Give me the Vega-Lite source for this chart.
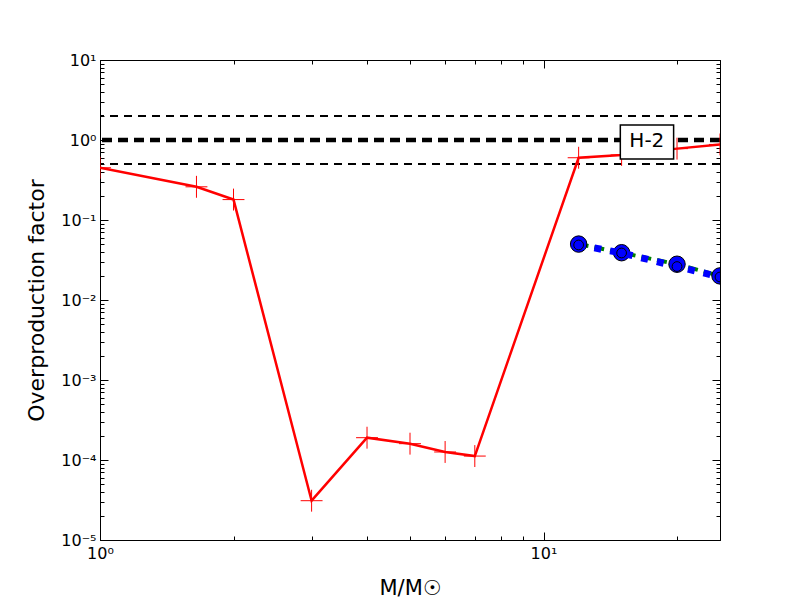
{
  "$schema": "https://vega.github.io/schema/vega-lite/v6.json",
  "width": 620,
  "height": 480,
  "autosize": "none",
  "padding": {"left": 100, "top": 60, "right": 80, "bottom": 60},
  "background": "white",
  "config": {
    "view": {"stroke": "black", "strokeWidth": 1},
    "axis": {
      "domainColor": "black",
      "tickColor": "black",
      "labelColor": "black",
      "titleColor": "black",
      "labelFont": "DejaVu Sans",
      "titleFont": "DejaVu Sans",
      "labelFontSize": 16,
      "titleFontSize": 21,
      "titleFontWeight": "normal",
      "grid": false
    }
  },
  "datasets": {
    "red": [
      {"m": 1, "f": 0.45},
      {"m": 1.65, "f": 0.26},
      {"m": 2, "f": 0.18},
      {"m": 3, "f": 3.1e-5},
      {"m": 4, "f": 1.9e-4},
      {"m": 5, "f": 1.6e-4},
      {"m": 6, "f": 1.26e-4},
      {"m": 7, "f": 1.12e-4},
      {"m": 12, "f": 0.6},
      {"m": 15, "f": 0.65},
      {"m": 20, "f": 0.78},
      {"m": 25, "f": 0.88}
    ],
    "green": [
      {"m": 12, "f": 0.05},
      {"m": 15, "f": 0.039},
      {"m": 20, "f": 0.028},
      {"m": 25, "f": 0.02}
    ],
    "blue": [
      {"m": 12, "f": 0.0487},
      {"m": 15, "f": 0.0387},
      {"m": 20, "f": 0.0262},
      {"m": 25, "f": 0.0194}
    ],
    "hthin": [{"f": 2}, {"f": 0.5}],
    "hthick": [{"f": 1}],
    "label": [{"x": 14.9, "x2": 19.65, "y": 1.54, "y2": 0.579, "xc": 17.1, "yc": 0.97, "t": "H-2"}]
  },
  "resolve": {"axis": {"x": "independent", "y": "independent"}},
  "layer": [
    {
      "data": {"name": "hthin"},
      "mark": {"type": "rule", "color": "black", "strokeWidth": 2, "strokeDash": [8, 6]},
      "encoding": {
        "y": {"field": "f", "type": "quantitative", "scale": {"type": "log", "domain": [1e-5, 10]}, "axis": null}
      }
    },
    {
      "data": {"name": "hthick"},
      "mark": {"type": "rule", "color": "black", "strokeWidth": 4.5, "strokeDash": [10, 6]},
      "encoding": {
        "y": {"field": "f", "type": "quantitative", "scale": {"type": "log", "domain": [1e-5, 10]}, "axis": null}
      }
    },
    {
      "data": {"name": "red"},
      "mark": {"type": "line", "color": "#ff0000", "strokeWidth": 2.5, "clip": true},
      "encoding": {
        "x": {"field": "m", "type": "quantitative", "scale": {"type": "log", "domain": [1, 25], "nice": false},
          "axis": {"orient": "bottom", "title": "M/M☉", "titlePadding": 12,
            "values": [1,2,3,4,5,6,7,8,9,10,20],
            "labelExpr": "abs(log(datum.value)/LN10 - round(log(datum.value)/LN10)) < 1e-6 ? '10' + (round(log(datum.value)/LN10) < 0 ? '⁻' : '') + ['⁰','¹','²','³','⁴','⁵','⁶'][abs(round(log(datum.value)/LN10))] : ''",
            "tickSize": {"condition": {"test": "abs(log(datum.value)/LN10 - round(log(datum.value)/LN10)) < 1e-6", "value": -8}, "value": -4},
            "labelPadding": 13, "labelFlush": false, "labelOverlap": false}},
        "y": {"field": "f", "type": "quantitative", "scale": {"type": "log", "domain": [1e-5, 10]},
          "axis": {"orient": "left", "title": "Overproduction factor", "titleFontSize": 22, "titlePadding": 12,
            "values": [1e-5,2e-5,3e-5,4e-5,5e-5,6e-5,7e-5,8e-5,9e-5,1e-4,2e-4,3e-4,4e-4,5e-4,6e-4,7e-4,8e-4,9e-4,1e-3,2e-3,3e-3,4e-3,5e-3,6e-3,7e-3,8e-3,9e-3,0.01,0.02,0.03,0.04,0.05,0.06,0.07,0.08,0.09,0.1,0.2,0.3,0.4,0.5,0.6,0.7,0.8,0.9,1,2,3,4,5,6,7,8,9,10],
            "labelExpr": "abs(log(datum.value)/LN10 - round(log(datum.value)/LN10)) < 1e-6 ? '10' + (round(log(datum.value)/LN10) < 0 ? '⁻' : '') + ['⁰','¹','²','³','⁴','⁵','⁶'][abs(round(log(datum.value)/LN10))] : ''",
            "tickSize": {"condition": {"test": "abs(log(datum.value)/LN10 - round(log(datum.value)/LN10)) < 1e-6", "value": -8}, "value": -4},
            "labelPadding": 12, "labelFlush": false, "labelOverlap": false}}
      }
    },
    {
      "data": {"name": "red"},
      "mark": {"type": "point", "shape": "M-1,0H1M0,-1V1", "size": 480, "filled": false, "stroke": "#ff0000", "strokeWidth": 1, "opacity": 1, "clip": true},
      "encoding": {
        "x": {"field": "m", "type": "quantitative", "scale": {"type": "log", "domain": [1, 25], "nice": false},
          "axis": {"orient": "top", "title": null, "labels": false,
            "values": [1,2,3,4,5,6,7,8,9,10,20],
            "tickSize": {"condition": {"test": "abs(log(datum.value)/LN10 - round(log(datum.value)/LN10)) < 1e-6", "value": -8}, "value": -4}}},
        "y": {"field": "f", "type": "quantitative", "scale": {"type": "log", "domain": [1e-5, 10]},
          "axis": {"orient": "right", "title": null, "labels": false,
            "values": [1e-5,2e-5,3e-5,4e-5,5e-5,6e-5,7e-5,8e-5,9e-5,1e-4,2e-4,3e-4,4e-4,5e-4,6e-4,7e-4,8e-4,9e-4,1e-3,2e-3,3e-3,4e-3,5e-3,6e-3,7e-3,8e-3,9e-3,0.01,0.02,0.03,0.04,0.05,0.06,0.07,0.08,0.09,0.1,0.2,0.3,0.4,0.5,0.6,0.7,0.8,0.9,1,2,3,4,5,6,7,8,9,10],
            "tickSize": {"condition": {"test": "abs(log(datum.value)/LN10 - round(log(datum.value)/LN10)) < 1e-6", "value": -8}, "value": -4}}}
      }
    },
    {
      "data": {"name": "green"},
      "mark": {"type": "line", "color": "#008000", "strokeWidth": 4, "strokeDash": [10, 6], "clip": true},
      "encoding": {
        "x": {"field": "m", "type": "quantitative", "scale": {"type": "log", "domain": [1, 25], "nice": false}, "axis": null},
        "y": {"field": "f", "type": "quantitative", "scale": {"type": "log", "domain": [1e-5, 10]}, "axis": null}
      }
    },
    {
      "data": {"name": "green"},
      "mark": {"type": "point", "shape": "circle", "size": 270, "filled": true, "fill": "#0000ff", "stroke": "black", "strokeWidth": 1, "opacity": 1, "clip": true},
      "encoding": {
        "x": {"field": "m", "type": "quantitative", "scale": {"type": "log", "domain": [1, 25], "nice": false}, "axis": null},
        "y": {"field": "f", "type": "quantitative", "scale": {"type": "log", "domain": [1e-5, 10]}, "axis": null}
      }
    },
    {
      "data": {"name": "blue"},
      "mark": {"type": "line", "color": "#0000ff", "strokeWidth": 7, "strokeDash": [7, 9], "strokeCap": "butt", "clip": true},
      "encoding": {
        "x": {"field": "m", "type": "quantitative", "scale": {"type": "log", "domain": [1, 25], "nice": false}, "axis": null},
        "y": {"field": "f", "type": "quantitative", "scale": {"type": "log", "domain": [1e-5, 10]}, "axis": null}
      }
    },
    {
      "data": {"name": "blue"},
      "mark": {"type": "point", "shape": "circle", "size": 95, "filled": true, "fill": "#0000ff", "stroke": "black", "strokeWidth": 1, "opacity": 1, "clip": true},
      "encoding": {
        "x": {"field": "m", "type": "quantitative", "scale": {"type": "log", "domain": [1, 25], "nice": false}, "axis": null},
        "y": {"field": "f", "type": "quantitative", "scale": {"type": "log", "domain": [1e-5, 10]}, "axis": null}
      }
    },
    {
      "data": {"name": "label"},
      "mark": {"type": "rect", "fill": "white", "stroke": "black", "strokeWidth": 1.5},
      "encoding": {
        "x": {"field": "x", "type": "quantitative", "scale": {"type": "log", "domain": [1, 25], "nice": false}, "axis": null},
        "x2": {"field": "x2"},
        "y": {"field": "y", "type": "quantitative", "scale": {"type": "log", "domain": [1e-5, 10]}, "axis": null},
        "y2": {"field": "y2"}
      }
    },
    {
      "data": {"name": "label"},
      "mark": {"type": "text", "font": "DejaVu Sans", "fontSize": 20, "color": "black", "align": "center", "baseline": "middle"},
      "encoding": {
        "x": {"field": "xc", "type": "quantitative", "scale": {"type": "log", "domain": [1, 25], "nice": false}, "axis": null},
        "y": {"field": "yc", "type": "quantitative", "scale": {"type": "log", "domain": [1e-5, 10]}, "axis": null},
        "text": {"field": "t"}
      }
    }
  ]
}
